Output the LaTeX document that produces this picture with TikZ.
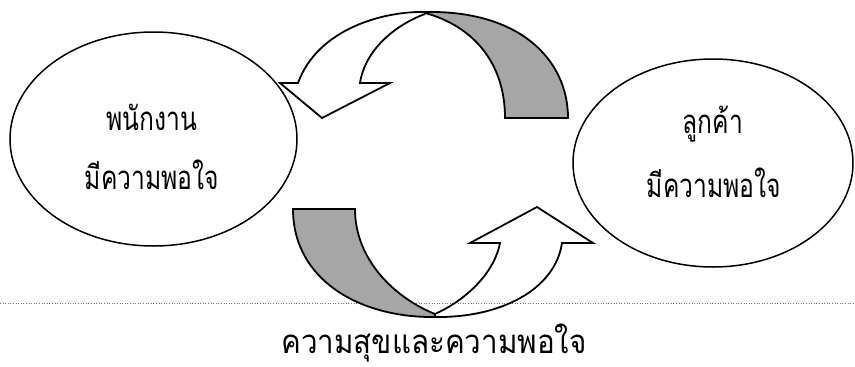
\documentclass[tikz,border=0pt]{standalone}
\usepackage{fontspec}
\usepackage{graphicx}
\newfontfamily\thaifont[Script=Thai]{Loma}
\newcommand{\tallthai}[1]{\scalebox{1.12}[1.5]{\thaifont\fontsize{22}{26}\selectfont #1}}
\usetikzlibrary{shapes.geometric}
\tikzset{
  bubble/.style={draw, ellipse, line width=1.5pt, inner sep=0pt},
  ribbon/.style={draw, line width=1.8pt, line join=miter},
  backside/.style={ribbon, fill=black!35},
  label/.style={inner sep=0pt},
  baseline/.style={draw=black!55, line width=0.6pt, dotted}
}
\begin{document}
\begin{tikzpicture}[x=1pt,y=-1pt]
\useasboundingbox (0,0) rectangle (855,367);
% dotted base line
\coordinate (l0) at (0,303);
\coordinate (l1) at (855,303);
\draw[baseline] (l0) -- (l1);
% ellipses
\node[bubble, minimum width=287pt, minimum height=214pt] (emp) at (153.5,139) {};
\node[bubble, minimum width=280pt, minimum height=208pt] (cus) at (713,163) {};
\node[label] (emp1) at (152,117) {\tallthai{พนักงาน}};
\node[label] (emp2) at (152,175) {\tallthai{มีความพอใจ}};
\node[label] (cus1) at (713,124) {\tallthai{ลูกค้า}};
\node[label] (cus2) at (714,183) {\tallthai{มีความพอใจ}};
% top arrow: grey back side
\draw[backside] (425,12) .. controls (520,10) and (568,60) .. (568,118)
  -- (505,118) .. controls (505,60) and (470,25) .. (425,13) -- cycle;
% top arrow: front with head
\draw[ribbon] (425,12) .. controls (385,11) and (318,28) .. (298,83)
  -- (280,83) -- (322,118) -- (390,83) -- (360,83)
  .. controls (365,50) and (395,25) .. (425,14);
% bottom arrow: grey back side
\draw[backside] (293,209) -- (355,209) .. controls (355,260) and (395,298) .. (435,314)
  -- (435,317) .. controls (360,318) and (293,280) .. (293,209) -- cycle;
% bottom arrow: front with head
\draw[ribbon] (435,317) .. controls (500,318) and (555,290) .. (562,243)
  -- (593,243) -- (537,207) -- (470,243) -- (500,243)
  .. controls (495,270) and (470,298) .. (435,314);
% caption
\node[label] (cap) at (434,343) {\scalebox{1.2}[1.0]{\tallthai{ความสุขและความพอใจ}}};
\end{tikzpicture}
\end{document}
